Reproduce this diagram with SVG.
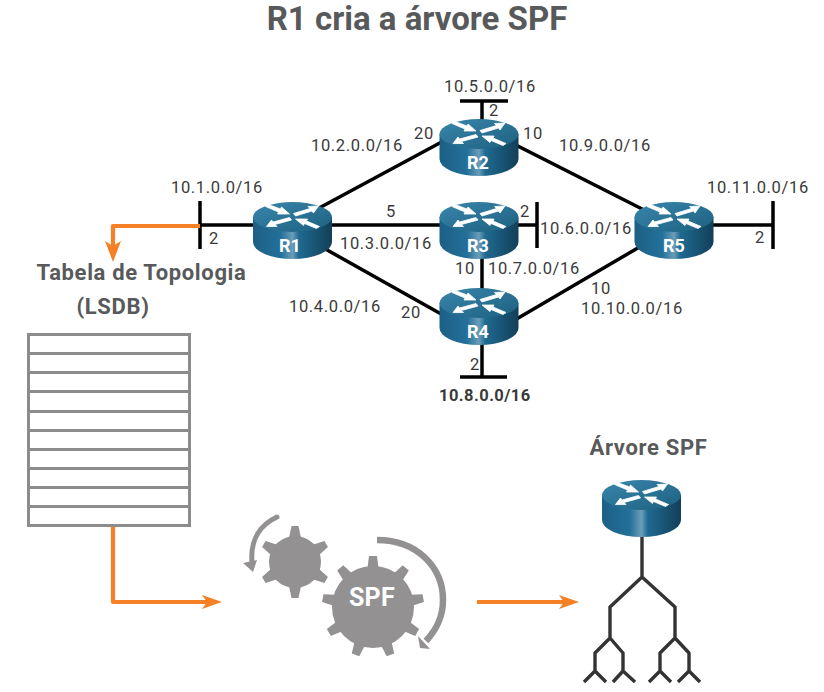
<svg xmlns="http://www.w3.org/2000/svg" width="824" height="692" viewBox="0 0 824 692">
<style>
text{font-family:Roboto,"Liberation Sans",sans-serif}
.t{font-size:16.5px;letter-spacing:.65px;fill:#3a3a3a}
.h{font-size:22px;letter-spacing:.65px;font-weight:700;fill:#58595b;text-anchor:middle}
.rl{font-size:18px;font-weight:700;fill:#fff;text-anchor:middle}
.l{stroke:#000;stroke-width:3.5;fill:none}
.o{stroke:#f58025;stroke-width:4.2;fill:none;stroke-linejoin:round}
.of{fill:#f58025}
.g{fill:#939192}
.tr{stroke:#333;stroke-width:3.4;fill:none;stroke-linejoin:round}
.tb{stroke:#8c8c8c;stroke-width:3;fill:none}
</style>
<defs>
<linearGradient id="side" x1="0" x2="1" y1="0" y2="0">
<stop offset="0" stop-color="#1d5f85"/><stop offset=".35" stop-color="#23709a"/><stop offset=".5" stop-color="#6a9db8"/><stop offset=".58" stop-color="#1f6a91"/><stop offset="1" stop-color="#123f58"/>
</linearGradient>
<linearGradient id="top" x1="0" x2="1" y1="0" y2="1">
<stop offset="0" stop-color="#3a86ad"/><stop offset="1" stop-color="#1c607f"/>
</linearGradient>
<g id="router">
<path d="M-39.500 0V25A39.500 17 0 0 0 39.500 25V0Z" fill="url(#side)"/>
<ellipse rx="39.500" ry="15" fill="url(#top)"/>
<path d="M-27-10.500L-24-12.500-12-8-11-10-3-3-15-3-14-5Z M27 9.500L24 11.500 12 6.500 11 8.500 3 2 15 2 14 4Z M26-11L21-4 19.500-6 3-1 1-3.500 17.500-8.500 15.500-10.500Z M-26 9.500L-21 3-19.500 5-3 .5-1 3-17.500 7.500-15.500 9.500Z" fill="#fff" stroke="#fff" stroke-width=".8" stroke-linejoin="round"/>
</g>
<path id="ts" d="M-3.500-36H3.500L6-24H-6Z"/>
<path id="tl" d="M-4-51H4L5.500-39H-5.500Z"/>
</defs>
<text x="417" y="30" font-size="33" font-weight="700" fill="#58595b" text-anchor="middle">R1 cria a árvore SPF</text>

<g id="connectors">
<path class="l" d="M200 225H300M308 214L449 138M292 225H479M320 246L450 319M508 141L650 213M479 225H537M482 225V320M508 324L648 242M674 225H773M482 134V101M460 101H508M537 202V248M773 201V249M200 201V249M482 320V377M460 377H507"/>
<path class="o" d="M200 226H113V250"/>
<path class="of" d="M105 241L113 262 121 241 113 246Z"/>
<path class="o" d="M113 525V602H208"/>
<path class="of" d="M202 595L222 602 202 609 207 602Z"/>
<path class="o" d="M477 602H565"/>
<path class="of" d="M559 595L579 602 559 609 564 602Z"/>
</g>

<g id="R1"><use href="#router" x="292.500" y="217"/><text class="rl" x="290" y="252">R1</text></g>
<g id="R2"><use href="#router" x="479" y="134"/><text class="rl" x="478" y="169">R2</text></g>
<g id="R3"><use href="#router" x="479" y="217"/><text class="rl" x="478" y="252">R3</text></g>
<g id="R4"><use href="#router" x="479" y="303"/><text class="rl" x="478" y="338">R4</text></g>
<g id="R5"><use href="#router" x="674" y="217"/><text class="rl" x="674" y="252">R5</text></g>

<g id="labels">
<text class="t" x="444" y="92">10.5.0.0/16</text>
<text class="t" x="489" y="116">2</text>
<text class="t" x="311" y="151">10.2.0.0/16</text>
<text class="t" x="414" y="139">20</text>
<text class="t" x="523" y="139">10</text>
<text class="t" x="559" y="151">10.9.0.0/16</text>
<text class="t" x="171" y="193">10.1.0.0/16</text>
<text class="t" x="209" y="244">2</text>
<text class="t" x="386" y="217">5</text>
<text class="t" x="340" y="249">10.3.0.0/16</text>
<text class="t" x="520" y="217">2</text>
<text class="t" x="540" y="234">10.6.0.0/16</text>
<text class="t" x="707" y="193">10.11.0.0/16</text>
<text class="t" x="755" y="243">2</text>
<text class="t" x="455" y="274">10</text>
<text class="t" x="488" y="274">10.7.0.0/16</text>
<text class="t" x="591" y="294">10</text>
<text class="t" x="581" y="314">10.10.0.0/16</text>
<text class="t" x="289" y="312">10.4.0.0/16</text>
<text class="t" x="401" y="318">20</text>
<text class="t" x="470" y="370">2</text>
<text class="t" x="439" y="401" font-weight="700" fill="#333" style="letter-spacing:.45px">10.8.0.0/16</text>
</g>

<g id="lsdb">
<text class="h" x="141.500" y="280">Tabela de Topologia</text>
<text class="h" x="113" y="314">(LSDB)</text>
<rect class="tb" x="28.500" y="334.500" width="161" height="191"/>
<path class="tb" d="M28 353.500H190M28 372.500H190M28 391.500H190M28 411.500H190M28 430.500H190M28 449.500H190M28 468.500H190M28 487.500H190M28 506.500H190"/>
</g>

<g id="spf" class="g">
<g transform="translate(295 562)">
<circle r="26"/>
<use href="#ts"/><use href="#ts" transform="rotate(60)"/><use href="#ts" transform="rotate(120)"/><use href="#ts" transform="rotate(180)"/><use href="#ts" transform="rotate(240)"/><use href="#ts" transform="rotate(300)"/>
</g>
<g transform="translate(373 607)">
<circle r="41"/>
<use href="#tl"/><use href="#tl" transform="rotate(40)"/><use href="#tl" transform="rotate(80)"/><use href="#tl" transform="rotate(120)"/><use href="#tl" transform="rotate(160)"/><use href="#tl" transform="rotate(200)"/><use href="#tl" transform="rotate(240)"/><use href="#tl" transform="rotate(280)"/><use href="#tl" transform="rotate(320)"/>
</g>
<text x="372" y="606" font-size="25" letter-spacing=".3" font-weight="700" fill="#fff" text-anchor="middle">SPF</text>
<path d="M377 540C418 540 443 568 443 600C443 618 436 630 426 641" fill="none" stroke="#939192" stroke-width="6.500"/>
<path d="M418 636L420 648 430 649Z"/>
<path d="M277 517C262 524 250 538 252 562" fill="none" stroke="#939192" stroke-width="5" stroke-linecap="round"/>
<path d="M243 563L257 560 253 572Z"/>
</g>

<g id="spf-tree">
<text class="h" x="648.500" y="455">Árvore SPF</text>
<use href="#router" x="641.500" y="495"/>
<path class="tr" d="M642 537V577M610 638V607L642 577 675 607V638M595 671V653L610 638 623 653V671M660 671V653L675 638 689 653V671M584 682L595 671 606 682M613 682L623 671 635 682M649 682L660 671 671 682M678 682L689 671 700 682"/>
</g>
</svg>
